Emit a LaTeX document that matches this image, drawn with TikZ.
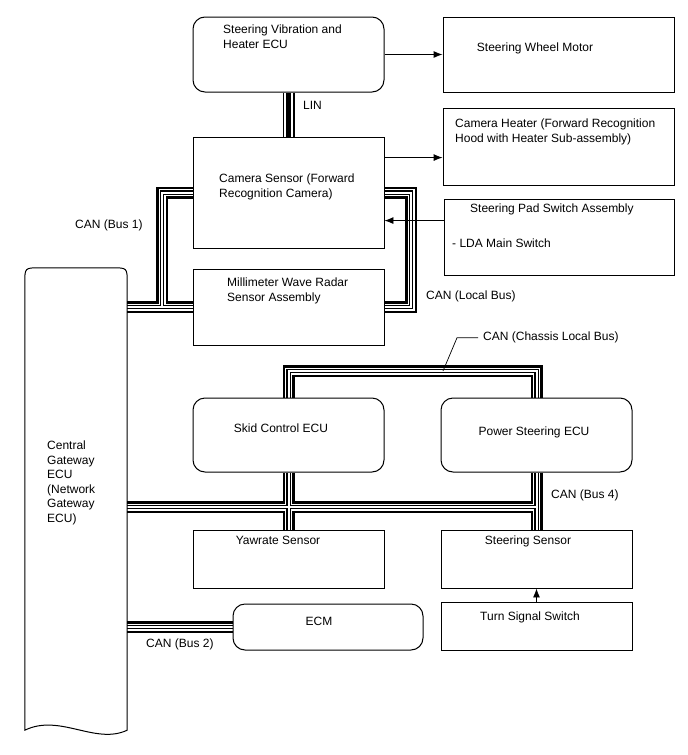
\documentclass[tikz,border=0pt]{standalone}
\usepackage{fontspec}
\setmainfont{Liberation Sans}
\usetikzlibrary{arrows.meta, positioning, calc, backgrounds}

\begin{document}
\begin{tikzpicture}[
    x=1pt, y=-1pt,
    ecu/.style={draw, line width=1pt, rounded corners=12pt},
    unit/.style={draw, line width=0.9pt},
    txt/.style={font=\fontsize{12}{14.5}\selectfont, inner sep=0pt, align=left},
    arrow/.style={-{Latex[length=9pt,width=7pt]}, line width=0.9pt},
    leader/.style={line width=0.7pt}
  ]
  \useasboundingbox (0,0) rectangle (688,755);

  % ---- Boxes ----
  \node[ecu, minimum width=191pt, minimum height=75pt] (svh) at (288.5,54.5) {};
  \node[unit, minimum width=231pt, minimum height=75pt] (swm) at (558.5,54.5) {};
  \node[unit, minimum width=231pt, minimum height=77pt] (cht) at (558.5,146.5) {};
  \node[unit, minimum width=191pt, minimum height=111pt] (cam) at (288.5,192.5) {};
  \node[unit, minimum width=230pt, minimum height=76pt] (pad) at (559,237) {};
  \node[unit, minimum width=191pt, minimum height=76pt] (mwr) at (288.5,307) {};
  \node[ecu, minimum width=191pt, minimum height=74pt] (skid) at (288.5,435) {};
  \node[ecu, minimum width=191pt, minimum height=74pt] (eps) at (536.5,435) {};
  \node[unit, minimum width=191pt, minimum height=58pt] (yaw) at (288.5,559) {};
  \node[unit, minimum width=191pt, minimum height=58pt] (sts) at (536.5,559) {};
  \node[unit, minimum width=191pt, minimum height=48pt] (tss) at (536.5,626) {};
  \node[ecu, minimum width=190pt, minimum height=46pt] (ecm) at (328,627) {};

  % Central Gateway (wavy bottom)
  \node[minimum width=102pt, minimum height=462pt, inner sep=0pt] (cgw) at (76,499) {};
  \draw[line width=1pt] (cgw.south west) -- ($(cgw.north west)+(0,15)$)
    .. controls (cgw.north west) .. ($(cgw.north west)+(15,0)$)
    -- ($(cgw.north east)+(-15,0)$)
    .. controls (cgw.north east) .. ($(cgw.north east)+(0,15)$)
    -- (cgw.south east)
    .. controls +(-32,15) and +(35,-17) .. (cgw.south west) -- cycle;

  % ---- Texts ----
  \node[txt, anchor=north west] (svh-t) at (223,25) {Steering Vibration and\\Heater ECU};
  \node[txt, anchor=north] (swm-t) at (535,43) {Steering Wheel Motor};
  \node[txt, anchor=north west] (cht-t) at (455,119) {Camera Heater (Forward Recognition\\Hood with Heater Sub-assembly)};
  \node[txt, anchor=north west] (cam-t) at (219,174) {Camera Sensor (Forward\\Recognition Camera)};
  \node[txt, anchor=north west] (pad-t) at (470,204) {Steering Pad Switch Assembly};
  \node[txt, anchor=north west] (lda-t) at (452,239) {- LDA Main Switch};
  \node[txt, anchor=north west] (mwr-t) at (227,278) {Millimeter Wave Radar\\Sensor Assembly};
  \node[txt, anchor=north west] (cgw-t) at (47,441) {Central\\Gateway\\ECU\\(Network\\Gateway\\ECU)};
  \node[txt, anchor=north] (skid-t) at (281,424) {Skid Control ECU};
  \node[txt, anchor=north] (eps-t) at (534,427) {Power Steering ECU};
  \node[txt, anchor=north] (yaw-t) at (278,536) {Yawrate Sensor};
  \node[txt, anchor=north] (sts-t) at (528,536) {Steering Sensor};
  \node[txt, anchor=north] (tss-t) at (530,612) {Turn Signal Switch};
  \node[txt, anchor=north] (ecm-t) at (319,617) {ECM};

  % Bus labels
  \node[txt, anchor=north west] (lin) at (303,101) {LIN};
  \node[txt, anchor=north west] (can1) at (75,220) {CAN (Bus 1)};
  \node[txt, anchor=north west] (canlb) at (426,291) {CAN (Local Bus)};
  \node[txt, anchor=north west] (canclb) at (483,332) {CAN (Chassis Local Bus)};
  \node[txt, anchor=north west] (can4) at (551,490) {CAN (Bus 4)};
  \node[txt, anchor=north west] (can2) at (146,639) {CAN (Bus 2)};

  % ---- Buses ----
  \coordinate (b1j) at (162,307);
  \coordinate (lbj) at (411,250);
  \coordinate (clj) at (412,371);
  \coordinate (b4j) at (536.5,507);
  \coordinate (clk) at (443,371);

  \begin{scope}[on background layer]
    \foreach \w/\c in {12/black, 7/white, 4.5/black, 2/white}
      \draw[line width=\w pt, draw=\c]
        (cgw.east |- mwr.west) -- (mwr.west)
        (cam.west) -| (b1j)
        (cam.east) -| (lbj) |- (mwr.east)
        (skid.north) |- (clj) -| (eps.north)
        (cgw.east |- b4j) -- (b4j)
        (skid.south) -- (yaw.north)
        (eps.south) -- (sts.north)
        (cgw.east |- ecm.west) -- (ecm.west);
    % LIN
    \foreach \w/\c in {12/black, 9.5/white, 4.5/black}
      \draw[line width=\w pt, draw=\c] (svh.south) -- (cam.north);
  \end{scope}

  \draw[leader] (canclb.west) ++(-5,0) -- ++(-21,0) -- (clk);

  % ---- Arrows ----
  \draw[arrow] (svh.east) -- (swm.west);
  \draw[arrow] ($(cam.north east)+(0,21)$) coordinate (ca) -- (ca -| cht.west);
  \draw[arrow] ($(pad.north west)+(0,22)$) coordinate (pa) -- (pa -| cam.east);
  \draw[arrow] (tss.north) -- (sts.south);
\end{tikzpicture}
\end{document}
